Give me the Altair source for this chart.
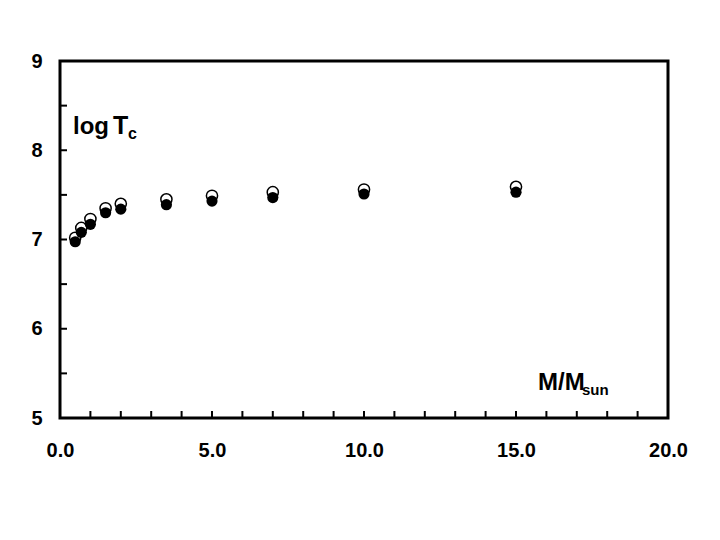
import altair as alt
import pandas as pd

mass = [0.5, 0.7, 1.0, 1.5, 2.0, 3.5, 5.0, 7.0, 10.0, 15.0]
logtc_open = [7.02, 7.13, 7.23, 7.35, 7.40, 7.45, 7.49, 7.53, 7.56, 7.59]
logtc_filled = [6.975, 7.08, 7.17, 7.30, 7.34, 7.39, 7.43, 7.47, 7.51, 7.53]
x_minor = list(range(1, 20))
y_minor = [5.5, 6.0, 6.5, 7.0, 7.5, 8.0, 8.5]
x_labels = [0, 5, 10, 15, 20]
y_labels = [5, 6, 7, 8, 9]

df = pd.DataFrame({"m": mass, "o": logtc_open, "f": logtc_filled})
dx = pd.DataFrame({"t": x_minor})
dy = pd.DataFrame({"t": y_minor})

W, H = 608, 357
FONT = "Liberation Sans"

xs = alt.Scale(domain=[0, 20], nice=False, zero=False)
ys = alt.Scale(domain=[5, 9], nice=False, zero=False)

xax = alt.Axis(values=x_labels, format=".1f", title=None, grid=False, domain=False,
               ticks=False, labelFont=FONT, labelFontWeight="bold", labelFontSize=20,
               labelColor="black", labelPadding=22, labelFlush=False)
yax = alt.Axis(values=y_labels, format="d", title=None, grid=False, domain=False,
               ticks=False, labelFont=FONT, labelFontWeight="bold", labelFontSize=20,
               labelColor="black", labelPadding=18, labelFlush=False)

open_pts = alt.Chart(df).mark_point(shape="circle", filled=True, fill="white",
                                    stroke="black", strokeWidth=1.5, size=125, opacity=1).encode(
    x=alt.X("m:Q", scale=xs, axis=xax),
    y=alt.Y("o:Q", scale=ys, axis=yax),
)
filled_pts = alt.Chart(df).mark_point(shape="circle", filled=True, color="black",
                                      size=125, opacity=1).encode(
    x=alt.X("m:Q", scale=xs),
    y=alt.Y("f:Q", scale=ys),
)
xticks = alt.Chart(dx).mark_rule(color="black", strokeWidth=2).encode(
    x=alt.X("t:Q", scale=xs),
    y=alt.value(H),
    y2=alt.value(H - 7),
)
yticks = alt.Chart(dy).mark_rule(color="black", strokeWidth=2).encode(
    y=alt.Y("t:Q", scale=ys),
    x=alt.value(0),
    x2=alt.value(7),
)

def txt(s, x, y, size, font=FONT):
    return alt.Chart(pd.DataFrame({"s": [s]})).mark_text(
        font=font, fontWeight="bold", fontSize=size, align="left",
        baseline="alphabetic", color="black").encode(
        text="s:N", x=alt.value(x), y=alt.value(y))

labels = (txt("log", 13, 73, 24) + txt("T", 53, 73, 25) + txt("c", 68, 78, 16)
          + txt("M/M", 478, 329, 24) + txt("sun", 522, 334, 15))

chart = alt.layer(xticks, yticks, open_pts, filled_pts, labels).properties(
    width=W, height=H,
    autosize=alt.AutoSizeParams(type="none"),
    padding={"left": 52, "top": 53, "right": 44, "bottom": 114},
    background="white",
).configure_view(stroke="black", strokeWidth=3)

chart.save("out.html", embed_options={"renderer": "svg", "actions": False})
